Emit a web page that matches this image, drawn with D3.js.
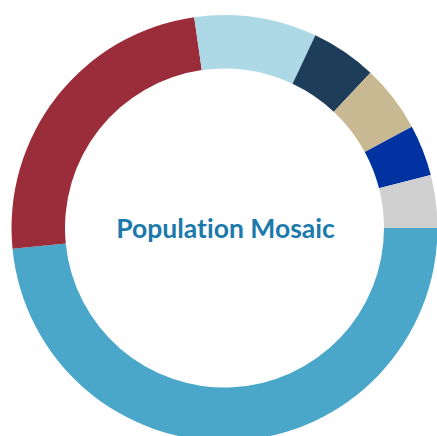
<!DOCTYPE html>
<html>
<head>
<meta charset="utf-8">
<script src="https://cdn.jsdelivr.net/npm/d3@7"></script>
<style>
  html, body { margin: 0; padding: 0; background: #fff; overflow: hidden; }
</style>
</head>
<body>
<svg></svg>
<script>
// basic parameters
const svgWidth = 437
const svgHeight = 436
const cx = 224.5
const cy = 228
const outerRadius = 213
const innerRadius = 159.5

// chart data (share of total, %)
const groups = ["Group 1", "Group 2", "Group 3", "Group 4", "Group 5", "Group 6", "Group 7"]
const shares = [48.5, 24.3, 9.3, 5.0, 5.1, 3.9, 4.0]
const colors = ["#4ba7c9", "#9b2c3a", "#add8e6", "#1d3d5a", "#c8b993", "#0033a1", "#d0d0d0"]
const title = "Population Mosaic"

const data = groups.map((g, i) => ({group: g, share: shares[i]}))

var svg = d3.select("svg")
  .attr("width", svgWidth)
  .attr("height", svgHeight)

var color = d3.scaleOrdinal()
  .domain(groups)
  .range(colors)

// start at 3 o'clock, go clockwise, keep data order
var pie = d3.pie()
  .value(d => d.share)
  .sort(null)
  .startAngle(Math.PI / 2)
  .endAngle(Math.PI / 2 + 2 * Math.PI)

var arc = d3.arc()
  .innerRadius(innerRadius)
  .outerRadius(outerRadius)

var g = svg.append("g")
  .attr("transform", "translate(" + cx + "," + cy + ")")

g.selectAll("path")
  .data(pie(data))
  .enter()
  .append("path")
    .attr("d", arc)
    .attr("fill", d => color(d.data.group))

// title in the hole
g.append("text")
  .attr("x", 1)
  .attr("y", 10)
  .attr("text-anchor", "middle")
  .style("font-family", "Lato, 'Open Sans', sans-serif")
  .style("font-weight", "700")
  .style("font-size", "26.5px")
  .style("font-variant-ligatures", "none")
  .attr("fill", "#1c79ab")
  .text(title)
</script>
</body>
</html>
